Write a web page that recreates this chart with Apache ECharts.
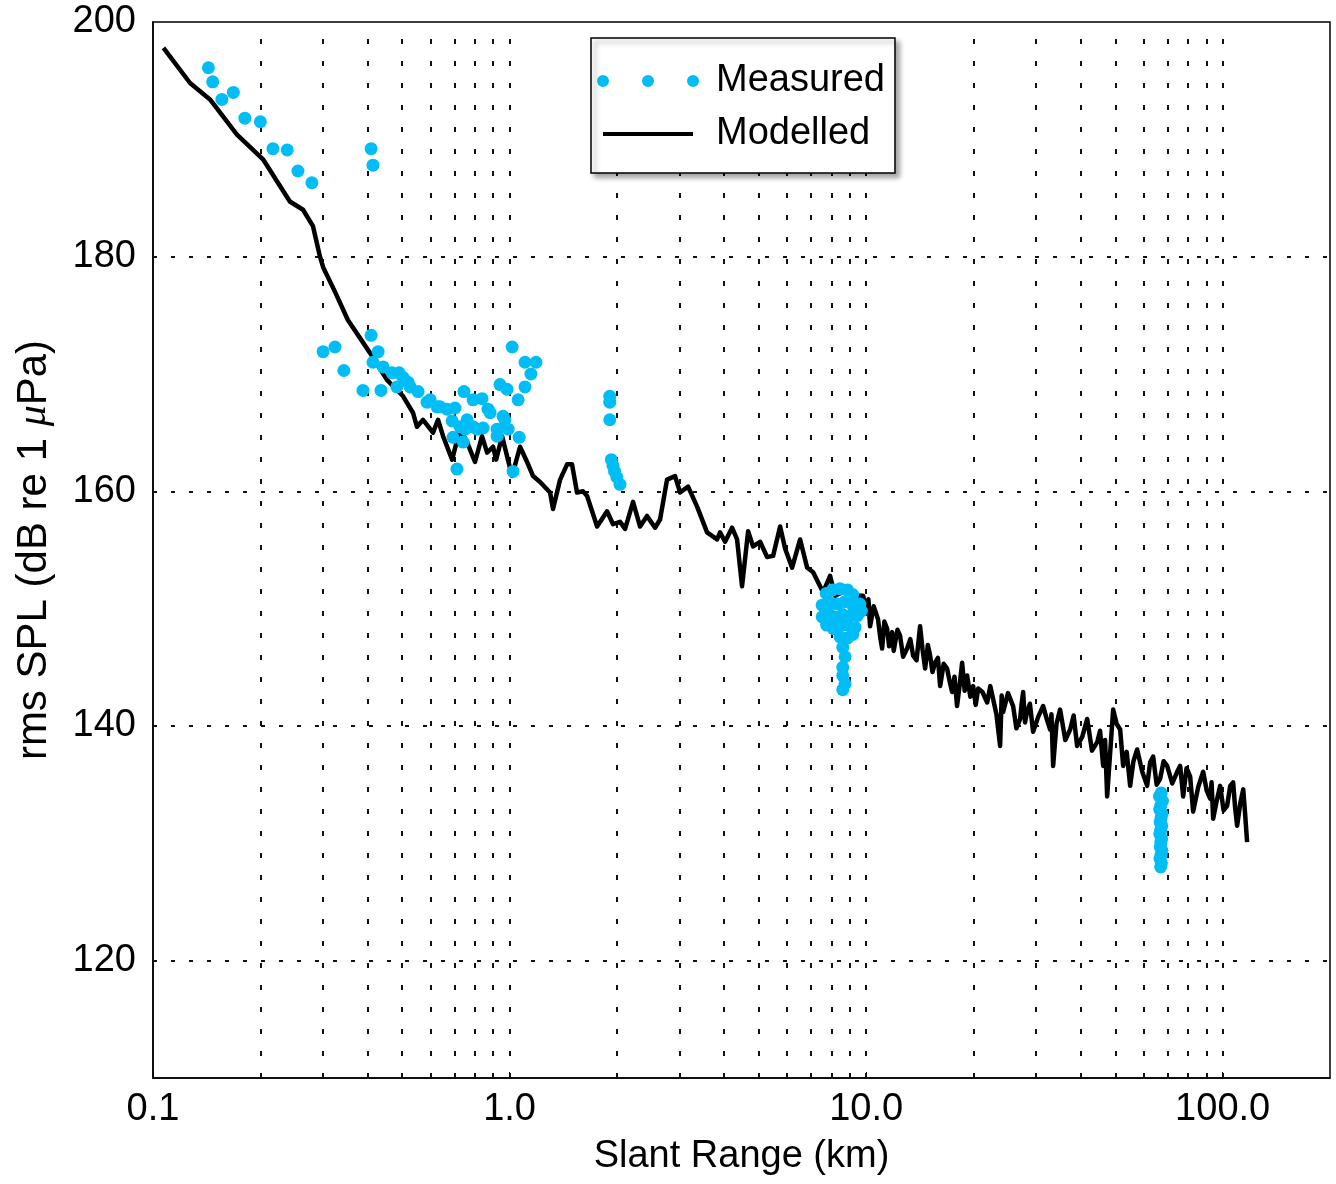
<!DOCTYPE html>
<html>
<head>
<meta charset="utf-8">
<script src="https://cdn.jsdelivr.net/npm/echarts@6/dist/echarts.min.js"></script>
<style>
html,body{margin:0;padding:0;background:#fff;}
#chart{width:1336px;height:1184px;}
</style>
</head>
<body>
<div id="chart"></div>
<script>
// ---- Modelled (black line) ----
const modelRangeKm = [
0.107,0.127,0.1445,0.172,0.2035,0.242,0.2635,0.281,0.294,0.300,0.324,0.352,0.406,0.453,0.503,0.536,0.550,0.572,0.610,0.630,
0.651,0.690,0.726,0.760,0.800,0.837,0.865,0.899,0.917,0.953,0.984,1.016,1.070,1.120,1.164,1.218,1.299,1.324,1.386,1.450,
1.497,1.546,1.608,1.650,1.760,1.877,1.951,2.042,2.109,2.220,2.323,2.430,2.559,2.643,2.765,2.912,3.008,3.168,3.357,3.581,
3.819,3.894,4.022,4.208,4.346,4.488,4.667,4.819,5.043,5.277,5.485,5.739,5.928,6.201,6.530,6.832,7.102,7.576,7.925,8.185,
9.018,9.434,9.808,
10.06,10.15,10.26,10.5,10.80,10.95,11.09,11.25,11.45,11.6,11.83,11.95,12.06,12.25,12.45,12.7,13.03,13.3,13.55,13.85,
14.17,14.4,14.64,14.9,15.12,15.35,15.61,15.9,16.13,16.5,16.87,17.15,17.43,17.7,17.99,18.3,18.59,18.9,19.20,19.6,
19.96,20.3,20.62,21.2,21.85,22.3,22.71,23.2,23.76,24.0,24.23,25.0,25.84,26.4,27.04,27.3,27.57,27.9,28.28,28.8,
29.40,30.4,31.37,32.1,32.82,33.1,33.46,34.2,35.00,36.2,37.35,38.2,39.07,40.4,41.69,43.0,44.45,45.3,46.22,46.8,
47.43,48.3,49.30,50.4,51.58,52.0,52.59,53.8,55.02,56.2,57.56,59.5,61.41,62.6,63.83,65.3,66.78,68.3,69.87,72.2,
74.54,76.0,77.48,79.2,81.05,81.8,82.64,85.4,88.16,90.2,92.24,93.1,94.04,96.2,98.40,100.6,102.9,105.0,107.0,108.4,
109.8,112.0,114.2,115.6,117.1
];
const modelDb = [
197.8,194.8,193.4,190.4,188.3,184.7,184.0,182.6,180.0,179.1,177.0,174.6,171.8,169.5,168.1,166.7,165.5,166.1,165.0,166.1,
164.7,162.7,165.3,164.2,162.5,164.7,163.3,163.8,162.7,164.7,163.0,161.3,163.8,162.5,161.3,160.8,159.9,158.5,161.0,162.3,
162.3,159.9,160.0,159.6,157.0,158.3,157.2,157.4,156.8,159.1,157.0,157.9,156.9,157.6,161.0,161.3,159.9,160.4,158.7,156.5,
155.9,156.5,155.7,156.9,155.9,151.9,156.6,155.3,155.7,154.4,154.5,157.0,155.1,153.5,155.9,153.5,153.1,151.4,152.8,151.1,
151.7,151.1,151.1,
149.7,150.8,148.5,150.2,149.1,147.6,146.6,148.9,148.3,146.8,148.0,146.4,147.1,148.2,147.7,145.9,146.6,147.4,146.0,145.6,
148.5,146.5,144.9,146.9,146.0,144.6,145.4,145.8,143.4,145.3,144.9,143.8,142.9,144.2,141.7,143.5,145.4,143.0,144.3,142.5,
143.4,141.8,143.2,142.9,142.0,143.4,142.3,141.0,138.3,142.6,141.2,142.8,141.7,139.8,140.6,141.9,142.9,140.3,141.2,141.9,
139.5,140.8,141.7,140.6,139.7,141.0,136.6,140.2,141.4,138.8,139.7,140.9,138.3,139.1,140.6,137.9,138.6,139.6,136.6,138.8,
134.0,137.5,141.4,140.2,139.7,138.4,136.6,137.8,134.9,137.0,138.0,136.1,134.9,136.9,137.4,135.0,135.5,137.0,136.6,135.1,
136.1,136.6,134.0,136.4,135.7,134.3,132.7,134.8,136.1,134.5,133.8,135.2,132.1,133.6,134.9,132.8,133.2,134.9,135.2,133.0,
131.5,133.4,134.6,132.5,130.1
];

// ---- Measured (blue dots) ----
const measuredKm = [
0.143,0.147,0.156,0.168,0.181,0.200,0.217,0.238,0.255,0.279,0.409,0.414,
0.300,0.324,0.343,0.388,0.409,0.428,0.436,0.414,0.442,0.468,0.490,0.483,0.503,0.519,0.526,0.554,0.587,0.599,
0.626,0.638,0.668,0.703,0.690,0.726,0.750,0.694,0.741,0.712,0.745,0.760,0.790,0.837,0.790,0.811,0.843,0.870,
0.882,0.923,0.940,0.984,0.959,0.970,0.991,0.923,1.017,1.064,1.023,1.057,1.105,1.148,1.105,1.186,
1.91,1.91,1.91,1.93,1.95,1.97,2.00,2.04,
7.73,8.05,8.45,8.87,9.17,7.53,7.93,8.30,8.73,9.17,9.60,7.53,7.85,8.19,8.60,9.02,9.45,9.70,7.75,8.10,8.45,8.87,9.31,
8.45,8.87,9.17,8.60,8.73,8.60,8.60,8.73,8.60,
67.2,66.5,67.8,67.0,66.6,67.6,67.2,66.8,67.5,67.0,66.6,67.4,67.1,66.8,67.5,67.2,66.7,67.3,67.0
];
const measuredDb = [
196.1,194.9,193.4,194.0,191.8,191.5,189.2,189.1,187.3,186.3,189.2,187.8,
171.9,172.3,170.3,168.6,173.3,171.9,168.6,171.0,170.6,170.1,170.1,168.9,169.7,169.3,168.9,168.5,167.6,167.8,
167.2,167.2,167.0,167.1,166.0,165.5,165.3,164.6,164.2,161.9,168.5,166.1,167.8,167.9,165.5,165.3,165.4,167.0,
166.7,165.3,169.1,168.7,166.4,166.1,165.3,164.7,172.3,164.6,161.7,167.8,168.9,170.0,171.0,171.0,
168.1,167.6,166.1,162.7,162.2,161.7,161.2,160.6,
151.3,151.6,151.7,151.6,151.2,150.3,150.5,150.4,150.6,150.3,150.4,149.3,149.6,149.3,149.5,149.4,149.4,149.8,148.6,148.3,148.5,148.6,148.4,
147.6,147.5,147.8,146.7,145.9,145.0,144.3,143.6,143.1,
134.3,134.0,133.6,133.2,132.9,132.5,132.2,131.8,131.5,131.1,130.8,130.4,130.1,129.7,129.4,129.0,128.7,128.3,128.0
];

// ---- Axes / grid ----
const xGridKm = [0.2,0.3,0.4,0.5,0.6,0.7,0.8,0.9,1,2,3,4,5,6,7,8,9,10,20,30,40,50,60,70,80,90,100];
const yGridDb = [120,140,160,180];

const FONT = "'Liberation Sans',Arial,Helvetica,sans-serif";
const chart = echarts.init(document.getElementById('chart'), null, {renderer:'canvas'});

const modelData = modelRangeKm.map((x,i)=>[x, modelDb[i]]);
const measData = measuredKm.map((x,i)=>[x, measuredDb[i]]);

const gridLines = [];
yGridDb.forEach(v=>gridLines.push({yAxis:v, lineStyle:{type:[4,14], color:'#111', width:2}}));
xGridKm.forEach(v=>gridLines.push({xAxis:v, lineStyle:{type:[5,17], color:'#111', width:2}}));

const dots = 'path://M0,6a6,6 0 1,0 12,0a6,6 0 1,0 -12,0M45,6a6,6 0 1,0 12,0a6,6 0 1,0 -12,0M90,6a6,6 0 1,0 12,0a6,6 0 1,0 -12,0';
const bar = 'path://M6,4L96,4L96,8L6,8ZM0,0L0,12M102,0L102,12';

chart.setOption({
  animation:false,
  backgroundColor:'#fff',
  grid:{left:153, right:6, top:22, bottom:106, outerBoundsMode:'none', containLabel:false,
        show:true, borderColor:'#000', borderWidth:1.5, backgroundColor:'transparent'},
  legend:{
    left:591, top:38, orient:'vertical', z:20, zlevel:0,
    padding:[24,10,20,6], itemGap:15,
    itemWidth:102, itemHeight:12,
    backgroundColor:'#fff', borderColor:'#000', borderWidth:1.5,
    shadowColor:'rgba(0,0,0,0.35)', shadowBlur:5, shadowOffsetX:4, shadowOffsetY:4,
    textStyle:{fontSize:38, color:'#000', fontFamily:FONT, padding:[0,0,0,12]},
    data:[{name:'Measured', icon:dots},{name:'Modelled', icon:bar, itemStyle:{color:'#000'}}]
  },
  xAxis:{
    type:'log', logBase:10, min:0.1, max:200,
    name:'Slant Range (km)', nameLocation:'middle', nameGap:60,
    nameTextStyle:{fontSize:38, color:'#000', fontFamily:FONT},
    axisLine:{show:true, lineStyle:{color:'#000', width:1.5}},
    axisTick:{show:true, inside:true, length:6, lineStyle:{color:'#000'}},
    axisLabel:{fontSize:38, color:'#000', fontFamily:FONT, margin:13, showMaxLabel:false,
      formatter:function(v){ return v < 0.5 ? '0.1' : Number(v).toFixed(1); }},
    splitLine:{show:false}
  },
  yAxis:{
    type:'value', min:110, max:200, interval:10,
    name:'rms SPL (dB re 1 {mu|μ}Pa)', nameLocation:'middle', nameGap:98,
    nameTextStyle:{fontSize:42, color:'#000', fontFamily:FONT,
      rich:{mu:{fontSize:42, color:'#000', fontStyle:'italic', fontFamily:"'Liberation Serif',serif"}}},
    axisLine:{show:true, lineStyle:{color:'#000', width:1.5}},
    axisTick:{show:false},
    axisLabel:{fontSize:38, color:'#000', fontFamily:FONT, margin:17,
      formatter:function(v){ return (v % 20 === 0) ? String(v) : ''; }},
    splitLine:{show:false}
  },
  series:[
    {
      name:'Modelled', type:'line', data:modelData, showSymbol:false, symbol:'none',
      lineStyle:{color:'#000', width:4.5, join:'round'}, itemStyle:{color:'#000'}, z:3,
      markLine:{silent:true, symbol:['none','none'], label:{show:false}, animation:false, data:gridLines, z:2}
    },
    {
      name:'Measured', type:'scatter', data:measData, symbol:'circle', symbolSize:13,
      itemStyle:{color:'#00BDF5', opacity:1}, z:4
    }
  ]
});
</script>
</body>
</html>
